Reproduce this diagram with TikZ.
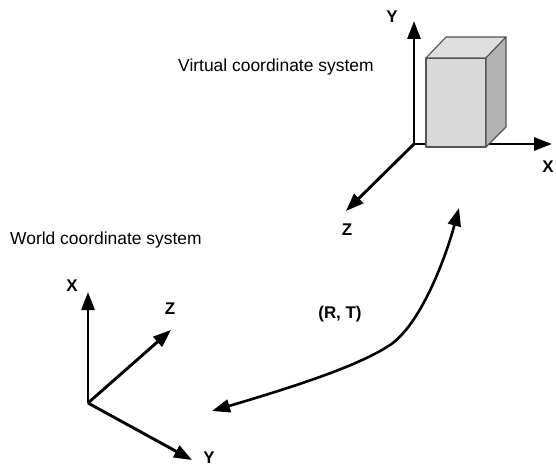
\documentclass[tikz,border=0pt]{standalone}
\usepackage{fontspec}
\setmainfont{Liberation Sans}
\usetikzlibrary{arrows.meta}
\definecolor{boxfront}{HTML}{D9D9D9}
\definecolor{boxtop}{HTML}{DEDEDE}
\definecolor{boxside}{HTML}{B3B3B3}
\definecolor{boxedge}{HTML}{555555}
\tikzset{
  axistip/.tip={Triangle[length=18bp,width=13bp]},
  axis/.style={line width=2.9bp,-axistip},
  link/.style={line width=2.6bp,axistip-axistip},
  axislabel/.style={font=\fontsize{17}{20}\selectfont\bfseries,inner sep=0pt},
  caption/.style={font=\fontsize{17.5}{20}\selectfont,inner sep=0pt},
  face/.style={draw=boxedge,line width=1.1bp,line join=round}
}
\begin{document}
\begin{tikzpicture}[x=1bp,y=-1bp]
  \useasboundingbox (0,0) rectangle (556,466);
  % virtual frame with the box on it
  \coordinate (vo) at (414,144);
  \coordinate (vx) at (552,144);
  \coordinate (vy) at (414,21);
  \coordinate (vz) at (346,211);
  \draw[axis] (vo) -- (vx);
  \draw[axis] (vo) -- (vy);
  \draw[axis] (vo) -- (vz);
  \filldraw[face,fill=boxfront] (426,58) rectangle (486,147);
  \filldraw[face,fill=boxtop] (426,58) -- (446,37) -- (506,37) -- (486,58) -- cycle;
  \filldraw[face,fill=boxside] (486,58) -- (506,37) -- (506,127) -- (486,147) -- cycle;
  \node[axislabel] (vylabel) at (392,17) {Y};
  \node[axislabel] (vxlabel) at (548,167) {X};
  \node[axislabel] (vzlabel) at (347,230) {Z};
  \node[caption,anchor=base west] (vname) at (178,72) {Virtual coordinate system};
  % world frame
  \coordinate (wo) at (88,403);
  \coordinate (wx) at (88,292);
  \coordinate (wz) at (171,330);
  \coordinate (wy) at (192,460);
  \draw[axis] (wo) -- (wx);
  \draw[axis] (wo) -- (wz);
  \draw[axis] (wo) -- (wy);
  \node[axislabel] (wxlabel) at (72,286) {X};
  \node[axislabel] (wzlabel) at (170,309) {Z};
  \node[axislabel] (wylabel) at (209,458) {Y};
  \node[caption,anchor=base west] (wname) at (10,245) {World coordinate system};
  % transform between the frames
  \coordinate (rtfrom) at (212,411);
  \coordinate (rtto) at (459,208);
  \draw[link] (rtfrom) .. controls (300,385) and (360,365) .. (390,345)
    .. controls (420,325) and (445,260) .. (rtto);
  \node[axislabel,anchor=base] (rt) at (340,318) {(R, T)};
\end{tikzpicture}
\end{document}
